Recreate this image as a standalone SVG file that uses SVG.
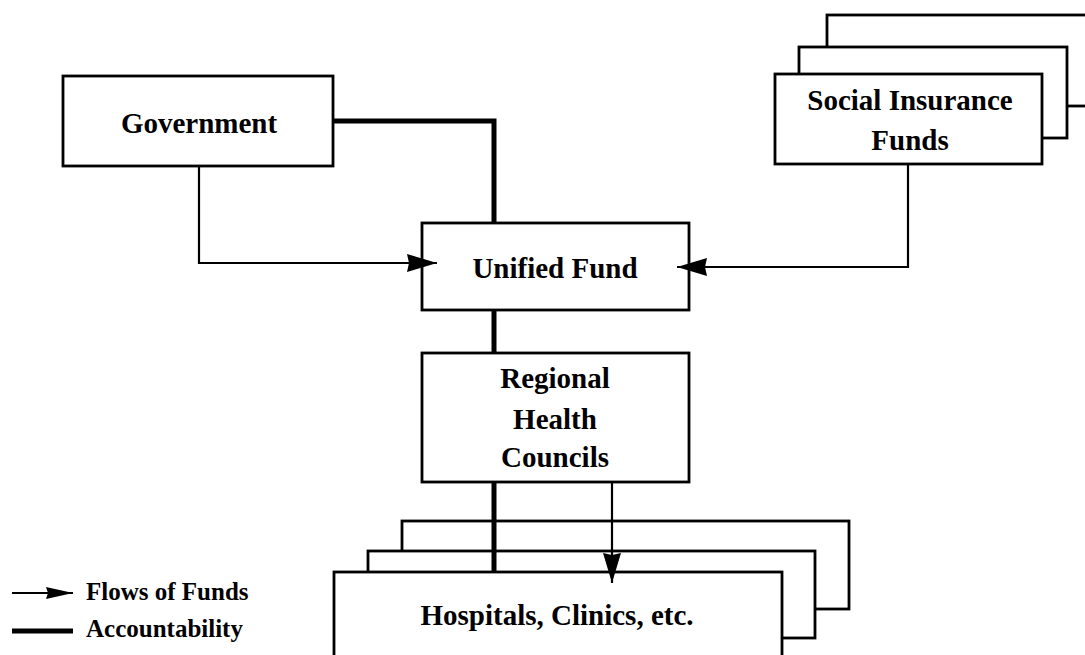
<svg xmlns="http://www.w3.org/2000/svg" width="1085" height="655" viewBox="0 0 1085 655">
  <defs>
    <style>
      .box { fill: #ffffff; stroke: #000000; stroke-width: 2.8; }
      .lbl { font-family: "Liberation Serif", "Times New Roman", serif; font-weight: bold; font-size: 29px; fill: #000000; text-anchor: middle; }
      .leg { font-family: "Liberation Serif", "Times New Roman", serif; font-weight: bold; font-size: 25px; fill: #000000; }
      .flow { fill: none; stroke: #000000; stroke-width: 2.2; }
      .acc { fill: none; stroke: #000000; stroke-width: 5; }
    </style>
    <marker id="arrow" markerUnits="userSpaceOnUse" markerWidth="30" markerHeight="18" refX="30" refY="9" orient="auto">
      <path d="M0,0 L30,9 L0,18 L2,9 z" fill="#000000"/>
    </marker>
    <marker id="arrowSmall" markerUnits="userSpaceOnUse" markerWidth="27" markerHeight="12" refX="27" refY="6" orient="auto">
      <path d="M0,0 L27,6 L0,12 L2,6 z" fill="#000000"/>
    </marker>
  </defs>
  <rect x="0" y="0" width="1085" height="655" fill="#ffffff"/>

  <g id="government">
    <rect class="box" x="63" y="76" width="270" height="90"/>
    <text class="lbl" x="199" y="133">Government</text>
  </g>

  <g id="social-insurance-funds">
    <rect class="box" x="827" y="15" width="300" height="91"/>
    <rect class="box" x="799" y="47" width="268" height="91"/>
    <rect class="box" x="775" y="74" width="267" height="90"/>
    <text class="lbl" x="910" y="110">Social Insurance</text>
    <text class="lbl" x="910" y="150">Funds</text>
  </g>

  <g id="unified-fund">
    <rect class="box" x="422" y="223" width="267" height="87"/>
    <text class="lbl" x="555" y="278">Unified Fund</text>
  </g>

  <g id="regional-health-councils">
    <rect class="box" x="422" y="353" width="267" height="129"/>
    <text class="lbl" x="555" y="388">Regional</text>
    <text class="lbl" x="555" y="429">Health</text>
    <text class="lbl" x="555" y="467">Councils</text>
  </g>

  <g id="hospitals">
    <rect class="box" x="402" y="521" width="447" height="88"/>
    <rect class="box" x="368" y="551" width="447" height="87"/>
    <rect class="box" x="334" y="572" width="448" height="120"/>
    <text class="lbl" x="557" y="625">Hospitals, Clinics, etc.</text>
  </g>

  <g id="connectors">
    <path class="acc" d="M333,121 H494 V223"/>
    <path class="acc" d="M494,310 V353"/>
    <path class="acc" d="M494,482 V572"/>
    <path class="flow" d="M199,166 V263 H437" marker-end="url(#arrow)"/>
    <path class="flow" d="M908,164 V267 H677" marker-end="url(#arrow)"/>
    <path class="flow" d="M612,482 V583" marker-end="url(#arrow)"/>
  </g>

  <g id="legend">
    <path class="flow" d="M12,593 H73" marker-end="url(#arrowSmall)"/>
    <text class="leg" x="86" y="600">Flows of Funds</text>
    <path class="acc" d="M12,631 H73"/>
    <text class="leg" x="86" y="637">Accountability</text>
  </g>
</svg>
